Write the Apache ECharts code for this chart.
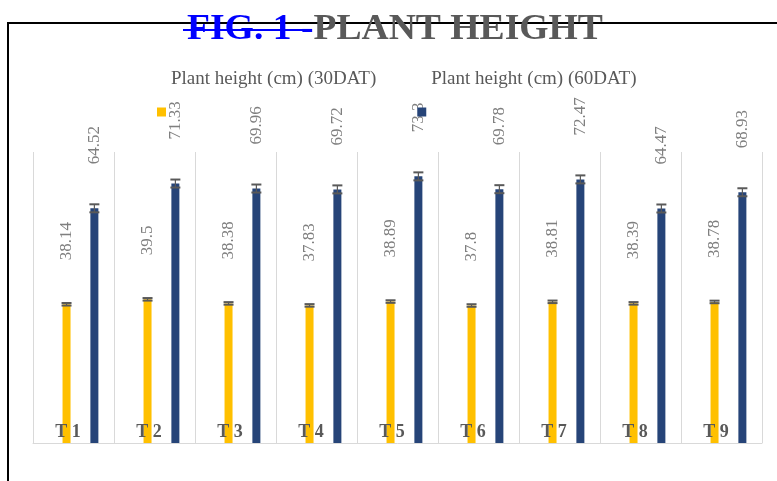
<!DOCTYPE html>
<html>
<head>
<meta charset="utf-8">
<script src="https://cdn.jsdelivr.net/npm/echarts@6/dist/echarts.min.js"></script>
<style>html,body{margin:0;padding:0;background:#fff}#c{width:777px;height:481px}</style>
</head>
<body>
<div id="c"></div>
<script>
const categories = ['T 1', 'T 2', 'T 3', 'T 4', 'T 5', 'T 6', 'T 7', 'T 8', 'T 9'];
const seriesNames = ['Plant height (cm) (30DAT)', 'Plant height (cm) (60DAT)'];
const height30 = [38.14, 39.5, 38.38, 37.83, 38.89, 37.8, 38.81, 38.39, 38.78];
const height60 = [64.52, 71.33, 69.96, 69.72, 73.3, 69.78, 72.47, 64.47, 68.93];
const err30 = [0.35, 0.35, 0.35, 0.35, 0.35, 0.35, 0.35, 0.35, 0.35];
const err60 = [1.1, 1.1, 1.1, 1.1, 1.1, 1.1, 1.1, 1.1, 1.1];
const titleParts = ['FIG. 1 -', 'PLANT HEIGHT'];

const SERIF = 'Liberation Serif';
const BAR_W = 8;
const GAP_RATIO = 0.74;
const SLOTS = 4;
function slotOffset(i) {
  const step = BAR_W * (1 + GAP_RATIO);
  const total = SLOTS * BAR_W + (SLOTS - 1) * BAR_W * GAP_RATIO;
  return -total / 2 + BAR_W / 2 + i * step;
}

function errorSeries(vals, errs, slot) {
  return {
    type: 'custom',
    silent: true,
    z: 5,
    data: vals.map((v, i) => [i, v, errs[i]]),
    encode: { x: 0, y: 1 },
    renderItem: function (params, api) {
      const c = api.value(0), v = api.value(1), e = api.value(2);
      const hi = api.coord([c, v + e]);
      const lo = api.coord([c, v - e]);
      const x = hi[0] + slotOffset(slot);
      const hw = 5;
      const st = { stroke: '#595959', lineWidth: 2 };
      return {
        type: 'group',
        children: [
          { type: 'line', shape: { x1: x, y1: hi[1], x2: x, y2: lo[1] }, style: { stroke: '#595959', lineWidth: 1.2 } },
          { type: 'line', shape: { x1: x - hw, y1: hi[1], x2: x + hw, y2: hi[1] }, style: st },
          { type: 'line', shape: { x1: x - hw, y1: lo[1], x2: x + hw, y2: lo[1] }, style: st }
        ]
      };
    }
  };
}

const valueLabel = {
  show: true,
  position: 'top',
  distance: 44,
  rotate: 90,
  align: 'left',
  verticalAlign: 'middle',
  fontFamily: SERIF,
  fontSize: 17,
  color: '#7f7f7f'
};

const blank = () => categories.map(() => '-');

const chart = echarts.init(document.getElementById('c'), null, { renderer: 'canvas' });
chart.setOption({
  animation: false,
  backgroundColor: '#ffffff',
  graphic: [
    { type: 'rect', z: 0, shape: { x: 8, y: 23, width: 900, height: 600 }, style: { fill: 'none', stroke: '#000', lineWidth: 2 } },
    {
      type: 'text', z: 10,
      x: 187, y: 12, scaleX: 1.045,
      style: {
        text: '{a|' + titleParts[0] + '}{b|' + titleParts[1] + '}',
        verticalAlign: 'top',
        rich: {
          a: { fontFamily: SERIF, fontWeight: 'bold', fontSize: 36, fill: '#0000ff' },
          b: { fontFamily: SERIF, fontWeight: 'bold', fontSize: 36, fill: '#595959' }
        }
      }
    },
    { type: 'line', z: 20, shape: { x1: 183, y1: 30, x2: 310, y2: 30 }, style: { stroke: '#0000ff', lineWidth: 2 } }
  ],
  legend: {
    left: 157,
    top: 70,
    padding: 0,
    itemWidth: 9,
    itemHeight: 9,
    itemGap: 41,
    icon: 'rect',
    data: seriesNames,
    formatter: '{t|{name}}',
    textStyle: {
      fontFamily: SERIF, fontSize: 19, color: '#595959',
      rich: { t: { fontFamily: SERIF, fontSize: 19, color: '#595959', padding: [0, 0, 65, 0] } }
    }
  },
  grid: { left: 33, right: 15, top: 152, bottom: 38, containLabel: false },
  xAxis: {
    type: 'category',
    data: categories,
    z: 10,
    axisLine: { show: true, lineStyle: { color: '#d9d9d9', width: 1 } },
    axisTick: { show: false },
    splitLine: { show: true, lineStyle: { color: '#d9d9d9', width: 1 } },
    axisLabel: {
      margin: -20,
      padding: [0, 11, 0, 0],
      fontFamily: SERIF,
      fontWeight: 'bold',
      fontSize: 18,
      color: '#595959'
    }
  },
  yAxis: { type: 'value', min: 0, max: 80, show: false, splitLine: { show: false } },
  series: [
    { type: 'bar', name: '_s0', data: blank(), barWidth: BAR_W, barGap: (GAP_RATIO * 100) + '%' },
    { type: 'bar', name: seriesNames[0], data: height30, barWidth: BAR_W, barGap: (GAP_RATIO * 100) + '%', itemStyle: { color: '#ffc000' }, label: valueLabel },
    { type: 'bar', name: '_s2', data: blank(), barWidth: BAR_W, barGap: (GAP_RATIO * 100) + '%' },
    { type: 'bar', name: seriesNames[1], data: height60, barWidth: BAR_W, barGap: (GAP_RATIO * 100) + '%', itemStyle: { color: '#264478' }, label: valueLabel },
    errorSeries(height30, err30, 1),
    errorSeries(height60, err60, 3)
  ]
});
</script>
</body>
</html>
